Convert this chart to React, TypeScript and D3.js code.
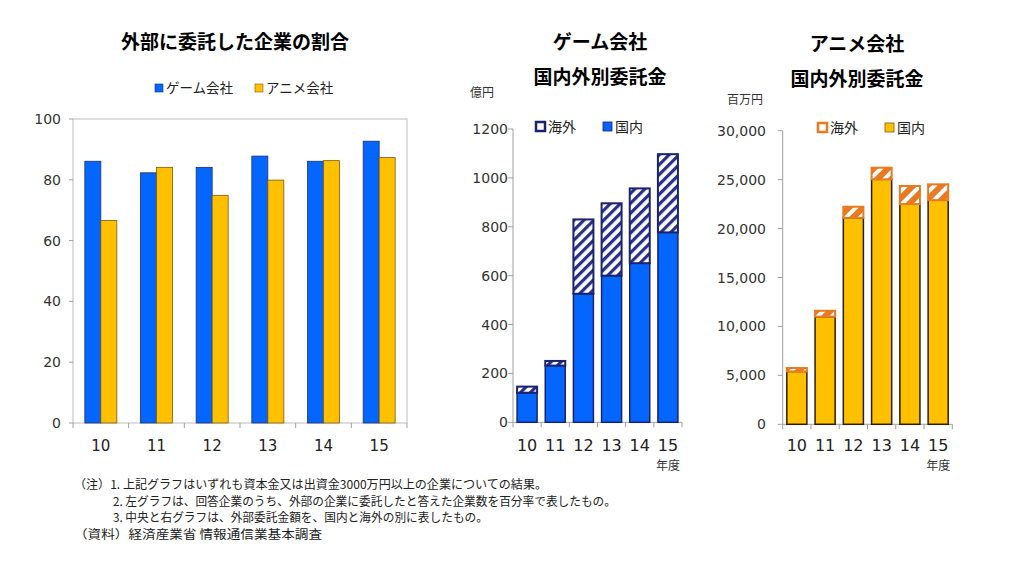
import React from "react";
import * as d3 from "d3";

const years = ["10", "11", "12", "13", "14", "15"];
const shareSeries = ["ゲーム会社", "アニメ会社"];
const gameShare = [86.1, 82.3, 84.1, 87.8, 86.1, 92.7];
const animeShare = [66.6, 84.1, 74.9, 79.9, 86.3, 87.3];
const shareTicks = [0, 20, 40, 60, 80, 100];

const gameDomestic = [121, 232, 526, 600, 651, 777];
const gameOverseas = [25, 19, 304, 296, 306, 320];
const gameTicks = [0, 200, 400, 600, 800, 1000, 1200];

const animeDomestic = [5400, 11000, 21100, 25030, 22500, 22900];
const animeOverseas = [350, 600, 1130, 1190, 1850, 1620];
const animeTicks = [0, 5000, 10000, 15000, 20000, 25000, 30000];

const notes = [
  "（注）1. 上記グラフはいずれも資本金又は出資金3000万円以上の企業についての結果。",
  "2. 左グラフは、回答企業のうち、外部の企業に委託したと答えた企業数を百分率で表したもの。",
  "3. 中央と右グラフは、外部委託金額を、国内と海外の別に表したもの。",
  "（資料）経済産業省  情報通信業基本調査",
];

const JP = "'Noto Sans CJK JP', 'Noto Sans', sans-serif";
const NUM = "'DejaVu Sans', Verdana, sans-serif";
const BLUE = "#0566ff";
const YELLOW = "#ffc000";
const NAVY = "#1a2370";
const ORANGE = "#e87a22";

function LeftChart() {
  const x = d3.scaleBand<string>().domain(years).range([73, 407]).padding(0);
  const x1 = d3.scaleBand<string>().domain(shareSeries).range([0, x.bandwidth()]).paddingOuter(0.74).paddingInner(0);
  const y = d3.scaleLinear().domain([0, 100]).range([423, 119]);
  const vals = [gameShare, animeShare];
  const fills = [BLUE, YELLOW];
  const strokes = ["#1b2e6b", "#7a5a10"];
  return (
    <g>
      <text x={235} y={49} textAnchor="middle" fontFamily={JP} fontWeight="bold" fontSize={19}>外部に委託した企業の割合</text>
      <rect x={x(years[0])!} y={y(100)} width={x.range()[1] - x.range()[0]} height={y(0) - y(100)} fill="none" stroke="#bdbdbd" />
      {shareTicks.map((t) => (
        <g key={t}>
          <line x1={69} x2={73} y1={y(t)} y2={y(t)} stroke="#a0a0a0" />
          <text x={61} y={y(t) + 5} textAnchor="end" fontFamily={NUM} fontSize={14} fill="#333">{t}</text>
        </g>
      ))}
      {[...years, "end"].map((yr, i) => {
        const xx = i < years.length ? x(yr)! : x.range()[1];
        return <line key={yr} x1={xx} x2={xx} y1={423} y2={428} stroke="#a0a0a0" />;
      })}
      {years.map((yr) => (
        <text key={yr} x={x(yr)! + x.bandwidth() / 2} y={451} textAnchor="middle" fontFamily={NUM} fontSize={15} fill="#222">{yr}</text>
      ))}
      {vals.map((arr, si) =>
        arr.map((v, i) => (
          <rect key={si + "-" + i} x={x(years[i])! + x1(shareSeries[si])!} y={y(v)} width={x1.bandwidth()} height={y(0) - y(v)} fill={fills[si]} stroke={strokes[si]} strokeWidth={0.8} />
        ))
      )}
      <rect x={155} y={84} width={8} height={8} fill={BLUE} stroke="#1b2e6b" strokeWidth={0.6} />
      <text x={166} y={93} fontFamily={JP} fontSize={13.5} fill="#222">{shareSeries[0]}</text>
      <rect x={255} y={84} width={8} height={8} fill={YELLOW} stroke="#7a5a10" strokeWidth={0.6} />
      <text x={266} y={93} fontFamily={JP} fontSize={13.5} fill="#222">{shareSeries[1]}</text>
    </g>
  );
}

type StackProps = {
  x0: number; x1: number; yTop: number; yBot: number; max: number; ticks: number[];
  domestic: number[]; overseas: number[]; fmt: (n: number) => string;
  domFill: string; domStroke: string; ovPattern: string; ovStroke: string; ovStrokeW: number;
  labelRight: number; title1: string; titleX: number; titleY1: number; unit: string; unitX: number; unitY: number;
  legendX: number; legendY: number; legendDomFill: string; legendDomStroke: string; legendOvFill: string; legendOvStroke: string;
};

function StackChart(p: StackProps) {
  const x = d3.scaleBand<string>().domain(years).range([p.x0, p.x1]).paddingInner(0.29).paddingOuter(0.145);
  const y = d3.scaleLinear().domain([0, p.max]).range([p.yBot, p.yTop]);
  const stack = d3.stack<{ d: number; o: number }>().keys(["d", "o"]);
  const rows = years.map((_, i) => ({ d: p.domestic[i], o: p.overseas[i] }));
  const series = stack(rows as any);
  const step = x.step();
  return (
    <g>
      <text x={p.titleX} y={p.titleY1} textAnchor="middle" fontFamily={JP} fontWeight="bold" fontSize={19}>{p.title1}</text>
      <text x={p.titleX} y={p.titleY1 + 35} textAnchor="middle" fontFamily={JP} fontWeight="bold" fontSize={19}>国内外別委託金</text>
      <text x={p.unitX} y={p.unitY} fontFamily={JP} fontSize={12} fill="#333">{p.unit}</text>
      <line x1={p.x0} x2={p.x0} y1={p.yTop} y2={p.yBot} stroke="#a0a0a0" />
      <line x1={p.x0} x2={p.x1} y1={p.yBot} y2={p.yBot} stroke="#a0a0a0" />
      {p.ticks.map((t) => (
        <g key={t}>
          <line x1={p.x0 - 5} x2={p.x0} y1={y(t)} y2={y(t)} stroke="#a0a0a0" />
          <text x={p.labelRight} y={y(t) + 5} textAnchor="end" fontFamily={NUM} fontSize={14} fill="#333">{p.fmt(t)}</text>
        </g>
      ))}
      {d3.range(years.length + 1).map((i) => {
        const xx = p.x0 + i * step;
        return <line key={i} x1={xx} x2={xx} y1={p.yBot} y2={p.yBot + 5} stroke="#a0a0a0" />;
      })}
      {years.map((yr) => (
        <text key={yr} x={x(yr)! + x.bandwidth() / 2} y={451} textAnchor="middle" fontFamily={NUM} fontSize={16} fill="#222">{yr}</text>
      ))}
      <text x={p.x1 - 26} y={470} fontFamily={JP} fontSize={12} fill="#333">年度</text>
      {series[0].map((s, i) => (
        <rect key={"d" + i} x={x(years[i])!} y={y(s[1])} width={x.bandwidth()} height={y(s[0]) - y(s[1])} fill={p.domFill} stroke={p.domStroke} strokeWidth={1.5} />
      ))}
      {series[1].map((s, i) => (
        <rect key={"o" + i} x={x(years[i])!} y={y(s[1])} width={x.bandwidth()} height={y(s[0]) - y(s[1])} fill={`url(#${p.ovPattern})`} stroke={p.ovStroke} strokeWidth={p.ovStrokeW} />
      ))}
      <rect x={p.legendX} y={p.legendY} width={9} height={9} fill={p.legendOvFill} stroke={p.legendOvStroke} strokeWidth={2.5} />
      <text x={p.legendX + 12} y={p.legendY + 10} fontFamily={JP} fontSize={14} fill="#222">海外</text>
      <rect x={p.legendX + 67} y={p.legendY} width={9} height={9} fill={p.legendDomFill} stroke={p.legendDomStroke} strokeWidth={0.8} />
      <text x={p.legendX + 79} y={p.legendY + 10} fontFamily={JP} fontSize={14} fill="#222">国内</text>
    </g>
  );
}

export default function App() {
  const fmtComma = d3.format(",");
  return (
    <svg width={1024} height={561} style={{ position: "absolute", left: 0, top: 0, background: "#fff" }}>
      <defs>
        <pattern id="navyHatch" patternUnits="userSpaceOnUse" width={7} height={7} patternTransform="rotate(45)">
          <rect width={7} height={7} fill="#fff" />
          <rect width={3.2} height={7} fill="#2a2f8a" />
        </pattern>
        <pattern id="orangeHatch" patternUnits="userSpaceOnUse" width={10} height={10} patternTransform="rotate(45)">
          <rect width={10} height={10} fill={ORANGE} />
          <rect width={4} height={10} fill="#fff" />
        </pattern>
      </defs>
      <rect width={1024} height={561} fill="#fff" />
      <LeftChart />
      <StackChart
        x0={513} x1={682} yTop={129} yBot={422.3} max={1200} ticks={gameTicks}
        domestic={gameDomestic} overseas={gameOverseas} fmt={(n) => String(n)}
        domFill={BLUE} domStroke={NAVY} ovPattern="navyHatch" ovStroke={NAVY} ovStrokeW={2}
        labelRight={508} title1="ゲーム会社" titleX={600} titleY1={49} unit="億円" unitX={470} unitY={97}
        legendX={536} legendY={122} legendDomFill={BLUE} legendDomStroke={NAVY} legendOvFill="#fff" legendOvStroke={NAVY}
      />
      <StackChart
        x0={782.7} x1={952.3} yTop={130.7} yBot={424.3} max={30000} ticks={animeTicks}
        domestic={animeDomestic} overseas={animeOverseas} fmt={(n) => fmtComma(n)}
        domFill={YELLOW} domStroke="#2a1e05" ovPattern="orangeHatch" ovStroke={ORANGE} ovStrokeW={2}
        labelRight={766} title1="アニメ会社" titleX={857} titleY1={51} unit="百万円" unitX={727} unitY={104}
        legendX={818} legendY={123} legendDomFill={YELLOW} legendDomStroke="#7a5a10" legendOvFill="#fff" legendOvStroke={ORANGE}
      />
      <g fontFamily={JP} fontSize={12} fill="#222">
        <text x={74} y={489} textLength={473} lengthAdjust="spacingAndGlyphs">{notes[0]}</text>
        <text x={113} y={506} textLength={503} lengthAdjust="spacingAndGlyphs">{notes[1]}</text>
        <text x={113} y={522} textLength={375} lengthAdjust="spacingAndGlyphs">{notes[2]}</text>
        <text x={74} y={539} textLength={248} lengthAdjust="spacingAndGlyphs">{notes[3]}</text>
      </g>
    </svg>
  );
}
